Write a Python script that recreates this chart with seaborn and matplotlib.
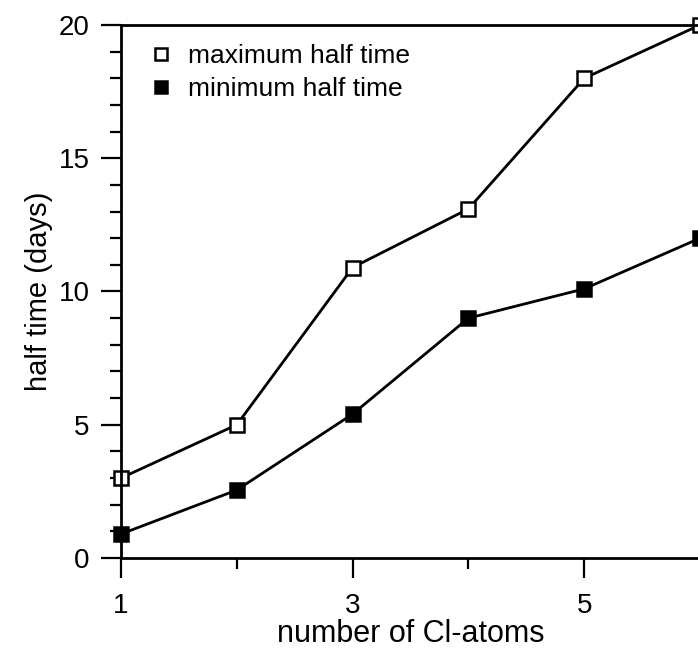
import pandas as pd
import matplotlib
matplotlib.use('Agg')
import matplotlib.pyplot as plt
import seaborn as sns
from matplotlib.lines import Line2D
from matplotlib.ticker import MultipleLocator, FixedLocator

# data
cl_atoms = [1, 2, 3, 4, 5, 6]
max_half_time = [3.0, 5.0, 10.9, 13.1, 18.0, 20.0]
min_half_time = [0.9, 2.55, 5.4, 9.0, 10.1, 12.0]

df = pd.DataFrame({'atoms': cl_atoms, 'max': max_half_time, 'min': min_half_time})

sns.set_style("ticks")
plt.rcParams['font.family'] = ['Liberation Sans', 'DejaVu Sans']
plt.rcParams['text.color'] = 'black'
plt.rcParams['axes.labelcolor'] = 'black'
plt.rcParams['xtick.color'] = 'black'
plt.rcParams['ytick.color'] = 'black'

fig = plt.figure(figsize=(6.98, 6.54), dpi=100)
ax = fig.add_axes([0.1734, 0.1468, 0.8295, 0.8150])

sns.lineplot(data=df, x='atoms', y='max', ax=ax, color='black', linewidth=2.0,
             marker='s', markersize=9.5, markerfacecolor='white',
             markeredgecolor='black', markeredgewidth=1.8, clip_on=False)
sns.lineplot(data=df, x='atoms', y='min', ax=ax, color='black', linewidth=2.0,
             marker='s', markersize=9.5, markerfacecolor='black',
             markeredgecolor='black', markeredgewidth=1.8, clip_on=False)

ax.set_xlim(1, 6)
ax.set_ylim(0, 20)

ax.xaxis.set_major_locator(FixedLocator([1, 3, 5]))
ax.xaxis.set_minor_locator(FixedLocator([2, 4]))
ax.yaxis.set_major_locator(MultipleLocator(5))
ax.yaxis.set_minor_locator(MultipleLocator(1))

ax.tick_params(which='major', direction='out', length=14.5, width=1.6,
               labelsize=20)
ax.tick_params(axis='x', which='major', pad=11)
ax.tick_params(axis='y', which='major', pad=8)
ax.tick_params(which='minor', direction='out', length=8, width=1.6)

for side in ['left', 'bottom', 'top']:
    ax.spines[side].set_linewidth(2.0)
    ax.spines[side].set_color('black')
ax.spines['right'].set_visible(False)

ax.set_xlabel('number of Cl-atoms', fontsize=22, labelpad=0)
ax.set_ylabel('half time (days)', fontsize=21, labelpad=4)

handles = [
    Line2D([], [], linestyle='none', marker='s', markersize=8,
           markerfacecolor='white', markeredgecolor='black', markeredgewidth=1.8),
    Line2D([], [], linestyle='none', marker='s', markersize=8,
           markerfacecolor='black', markeredgecolor='black', markeredgewidth=1.8),
]
ax.legend(handles, ['maximum half time', 'minimum half time'], loc='upper left',
          bbox_to_anchor=(0.01, 1.008), frameon=False, fontsize=19,
          handlelength=0.8, handletextpad=0.6, labelspacing=0.33)

fig.savefig('out.png', dpi=100)
